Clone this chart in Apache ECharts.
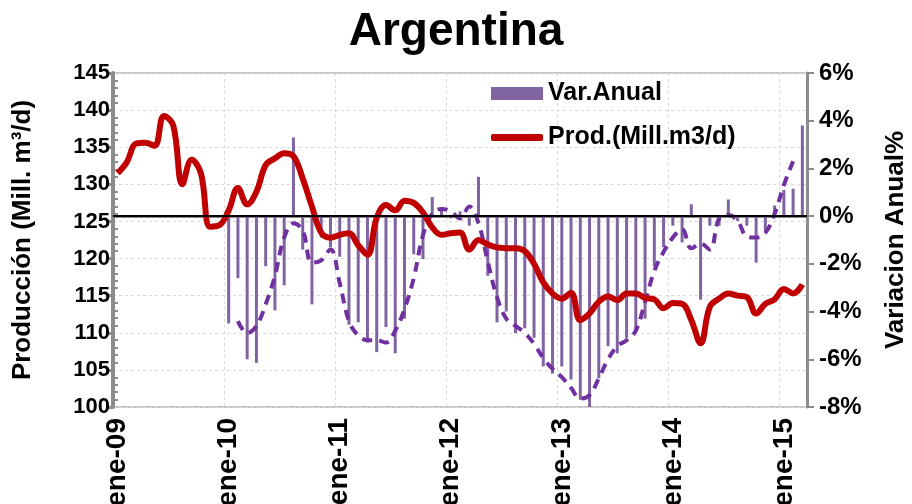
<!DOCTYPE html>
<html>
<head>
<meta charset="utf-8">
<script src="https://cdn.jsdelivr.net/npm/echarts@6/dist/echarts.min.js"></script>
<style>
  html, body { margin: 0; padding: 0; background: #fff; }
  #chart { width: 912px; height: 504px; }
</style>
</head>
<body>
<div id="chart"></div>
<script>
// meses ene-09 .. mar-15
const monthNames = ['ene','feb','mar','abr','may','jun','jul','ago','sep','oct','nov','dic'];
const years = ['09','10','11','12','13','14','15'];
const months = [];
years.forEach(y => monthNames.forEach(m => months.push(m + '-' + y)));
months.length = 75;

// produccion (Mill. m3/d), eje izquierdo
const prod = [
  131.5, 133.0, 135.5, 135.6, 135.2, 139.2, 138.0, 130.0, 133.3, 131.5, 124.3, 124.5,
  126.5, 129.5, 127.3, 129.0, 132.6, 133.5, 134.2, 133.8, 130.8, 127.0, 123.5, 122.8,
  123.2, 123.4, 121.8, 120.5, 125.5, 127.2, 126.5, 127.8, 127.5, 126.2, 124.2, 123.2,
  123.4, 123.5, 121.2, 122.5, 121.9, 121.5, 121.4, 121.4, 121.0, 119.3, 116.8, 115.3,
  114.6, 115.4, 111.7, 112.6, 114.2, 114.9, 114.4, 115.3, 115.3, 114.7, 114.5, 113.3,
  114.0, 113.9, 111.7, 108.6, 113.5, 114.6, 115.3, 115.0, 114.8, 112.6, 113.9, 114.5,
  115.9, 115.3, 116.5
];

// variacion anual %, eje derecho
const varAnual = [
  null, null, null, null, null, null, null, null, null, null, null, null,
  -4.5, -2.6, -6.0, -6.15, -2.1, -3.95, -2.9, 3.3, -1.4, -3.7, -0.9, -1.3,
  -1.7, -4.55, -4.45, -5.3, -5.7, -4.65, -5.75, -4.3, -1.6, -1.8, 0.8, 0.3,
  -0.1, 0.2, -0.4, 1.65, -2.5, -4.45, -4.0, -4.9, -4.7, -5.1, -6.3, -6.6,
  -6.3, -6.85, -7.7, -8.05, -6.8, -5.45, -5.75, -5.1, -4.75, -4.3, -2.1, -1.3,
  -0.4, -1.1, 0.5, -3.5, -0.4, -0.4, 0.7, -0.2, -0.4, -1.95, -0.6, 0.45,
  1.1, 1.15, 3.8
];

// tendencia (linea discontinua), eje derecho
const tendencia = [
  null, null, null, null, null, null, null, null, null, null, null, null,
  null, -4.4, -4.9, -4.6, -3.7, -2.5, -0.9, -0.3, -0.6, -1.95, -1.85, -1.4,
  -2.8, -4.4, -5.0, -5.2, -5.2, -5.3, -4.8, -3.9, -2.6, -0.8, 0.1, 0.3,
  0.2, -0.1, 0.4, -0.3, -1.9, -3.4, -4.3, -4.6, -4.9, -5.35, -5.95, -6.4,
  -6.75, -7.2, -7.65, -7.5, -6.8, -6.0, -5.45, -5.2, -4.8, -3.6, -2.3, -1.5,
  -0.9, -0.55, -1.35, -1.15, -1.4, -0.1, 0.05, -0.2, -0.85, -0.9, -0.7, 0.1,
  1.3, 2.3, null
];

const FONT = 'Liberation Sans, Arial, sans-serif';
const AXIS_GRAY = '#8c8c8c';
const legendText = { fontFamily: FONT, fontSize: 25, fontWeight: 'bold', color: '#000' };

const chart = echarts.init(document.getElementById('chart'));
chart.setOption({
  animation: false,
  title: {
    text: 'Argentina',
    left: 'center',
    top: 4,
    textStyle: { fontFamily: FONT, fontSize: 46, fontWeight: 'bold', color: '#000' }
  },
  legend: [
    {
      left: 486, top: 76,
      itemWidth: 52, itemHeight: 13,
      data: [{ name: 'Var.Anual', icon: 'rect' }],
      textStyle: legendText
    },
    {
      left: 486, top: 120,
      itemWidth: 52, itemHeight: 7,
      data: [{ name: 'Prod.(Mill.m3/d)', icon: 'roundRect' }],
      itemStyle: { color: '#c00000' },
      textStyle: legendText
    }
  ],
  grid: {
    left: 113, right: 105, top: 73, bottom: 97,
    outerBoundsMode: 'none',
    show: true, borderColor: AXIS_GRAY, borderWidth: 1
  },
  xAxis: [
    {
      type: 'category',
      data: months,
      boundaryGap: true,
      axisLine: { lineStyle: { color: AXIS_GRAY, width: 3 } },
      axisTick: { interval: 11, length: 8, lineStyle: { color: AXIS_GRAY, width: 2 } },
      axisLabel: {
        interval: 11, rotate: 90, margin: 11,
        fontFamily: FONT, fontSize: 28, fontWeight: 'bold', color: '#000'
      },
      splitLine: {
        show: true, interval: 11,
        lineStyle: { color: '#d9d9d9', type: [3, 3], width: 1 }
      }
    },
    {
      type: 'category',
      data: months,
      boundaryGap: true,
      position: 'bottom',
      offset: 0,
      axisLine: { show: false },
      axisTick: { inside: true, interval: 0, length: 5, lineStyle: { color: AXIS_GRAY, width: 1.5 } },
      axisLabel: { show: false },
      splitLine: { show: false }
    }
  ],
  yAxis: [
    {
      type: 'value',
      min: 100, max: 145, interval: 5,
      name: 'Producción (Mill. m³/d)',
      nameLocation: 'middle',
      nameRotate: 90,
      nameGap: 77,
      nameTextStyle: { fontFamily: FONT, fontSize: 26, fontWeight: 'bold', color: '#000' },
      axisLine: { show: true, lineStyle: { color: AXIS_GRAY, width: 4 } },
      axisTick: { show: true, length: 7, lineStyle: { color: AXIS_GRAY, width: 3 } },
      minorTick: { show: true, splitNumber: 5, length: -5, lineStyle: { color: AXIS_GRAY, width: 2 } },
      axisLabel: { margin: 3, fontFamily: FONT, fontSize: 22, fontWeight: 'bold', color: '#000' },
      splitLine: { show: true, lineStyle: { color: '#d9d9d9', type: [3, 3], width: 1 } }
    },
    {
      type: 'value',
      min: -8, max: 6, interval: 2,
      name: 'Variacion Anual%',
      nameLocation: 'middle',
      nameRotate: 90,
      nameGap: 76,
      nameTextStyle: { fontFamily: FONT, fontSize: 26, fontWeight: 'bold', color: '#000' },
      axisLine: { show: true, lineStyle: { color: AXIS_GRAY, width: 3 } },
      axisTick: { show: true, length: 7, lineStyle: { color: AXIS_GRAY, width: 2 } },
      axisLabel: {
        margin: 12, formatter: '{value}%',
        fontFamily: FONT, fontSize: 24, fontWeight: 'bold', color: '#000'
      },
      splitLine: { show: false }
    }
  ],
  series: [
    {
      name: 'Var.Anual',
      type: 'bar',
      xAxisIndex: 0,
      yAxisIndex: 1,
      data: varAnual,
      barWidth: 3,
      itemStyle: { color: '#8064a2' },
      markLine: {
        silent: true,
        symbol: 'none',
        label: { show: false },
        lineStyle: { color: '#000', width: 2, type: 'solid' },
        data: [{ yAxis: 0 }]
      },
      z: 2
    },
    {
      name: 'Tendencia',
      type: 'line',
      xAxisIndex: 0,
      yAxisIndex: 1,
      data: tendencia,
      smooth: 0.4,
      symbol: 'none',
      lineStyle: { color: '#7030a0', width: 4, type: [10, 7] },
      z: 3
    },
    {
      name: 'Prod.(Mill.m3/d)',
      type: 'line',
      xAxisIndex: 0,
      yAxisIndex: 0,
      data: prod,
      smooth: 0.4,
      symbol: 'none',
      itemStyle: { color: '#c00000' },
      lineStyle: { color: '#c00000', width: 6 },
      z: 4
    }
  ]
});
</script>
</body>
</html>
